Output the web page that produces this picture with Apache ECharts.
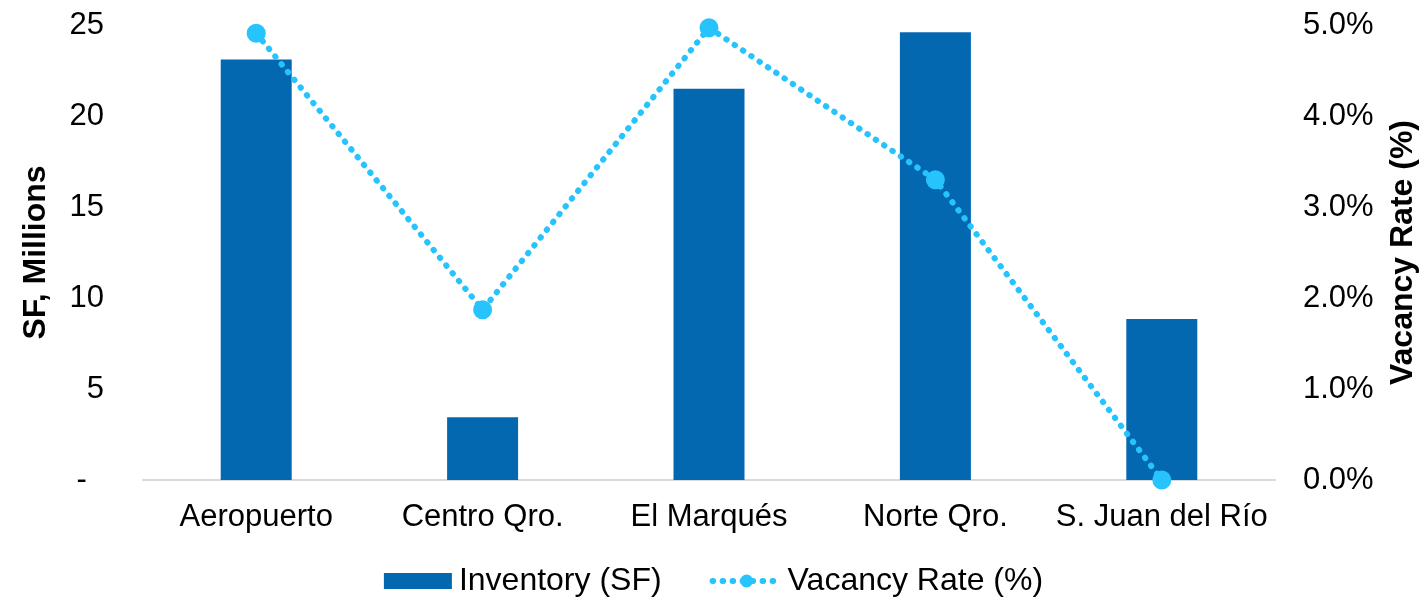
<!DOCTYPE html>
<html>
<head>
<meta charset="utf-8">
<script src="https://cdn.jsdelivr.net/npm/echarts@6/dist/echarts.min.js"></script>
<style>
  html, body { margin: 0; padding: 0; background: #ffffff; }
  #chart { width: 1427px; height: 602px; }
</style>
</head>
<body>
<div id="chart"></div>
<script>
// Industrial submarkets
const categories = ['Aeropuerto', 'Centro Qro.', 'El Marqués', 'Norte Qro.', 'S. Juan del Río'];
// Inventory, square feet in millions
const inventorySF = [23.1, 3.45, 21.5, 24.6, 8.85];
// Vacancy rate, percent
const vacancyRate = [4.91, 1.87, 4.97, 3.30, 0.0];

const BAR_COLOR = '#0468B1';
const LINE_COLOR = '#27C3FC';
const FONT = '"Liberation Sans", Arial, sans-serif';

const chart = echarts.init(document.getElementById('chart'), null, { renderer: 'canvas' });

chart.setOption({
  backgroundColor: '#ffffff',
  animation: false,
  textStyle: { fontFamily: FONT },
  grid: { left: 143, right: 152, top: 25, bottom: 122, containLabel: false },
  legend: {
    bottom: 0,
    left: 'center',
    itemGap: 48,
    itemWidth: 68,
    itemHeight: 16,
    textStyle: { fontFamily: FONT, fontSize: 32, color: '#000000', padding: [0, 0, 0, 2] },
    data: [
      { name: 'Inventory (SF)', icon: 'rect' },
      {
        name: 'Vacancy Rate (%)',
        lineStyle: { width: 6, type: [0.5, 9.5], cap: 'round', color: LINE_COLOR }
      }
    ]
  },
  xAxis: {
    type: 'category',
    data: categories,
    axisLine: { show: true, lineStyle: { color: '#D9D9D9', width: 2 } },
    axisTick: { show: false },
    axisLabel: { interval: 0, fontFamily: FONT, fontSize: 31, color: '#000000', margin: 22 }
  },
  yAxis: [
    {
      type: 'value',
      min: 0, max: 25, interval: 5,
      name: 'SF, Millions',
      nameLocation: 'middle',
      nameRotate: 90,
      nameGap: 91,
      nameTextStyle: { fontFamily: FONT, fontSize: 32, fontWeight: 'bold', color: '#000000' },
      axisLine: { show: false },
      axisTick: { show: false },
      splitLine: { show: false },
      axisLabel: {
        fontFamily: FONT, fontSize: 31, color: '#000000', margin: 39,
        formatter: v => (v === 0 ? '-  ' : String(v))
      }
    },
    {
      type: 'value',
      min: 0, max: 5, interval: 1,
      name: 'Vacancy Rate (%)',
      nameLocation: 'middle',
      nameRotate: 90,
      nameGap: 112,
      nameTextStyle: { fontFamily: FONT, fontSize: 32, fontWeight: 'bold', color: '#000000' },
      axisLine: { show: false },
      axisTick: { show: false },
      splitLine: { show: false },
      axisLabel: {
        fontFamily: FONT, fontSize: 31, color: '#000000', margin: 28,
        formatter: v => v.toFixed(1) + '%'
      }
    }
  ],
  series: [
    {
      name: 'Inventory (SF)',
      type: 'bar',
      yAxisIndex: 0,
      data: inventorySF,
      barWidth: 71,
      itemStyle: { color: BAR_COLOR }
    },
    {
      name: 'Vacancy Rate (%)',
      type: 'line',
      yAxisIndex: 1,
      data: vacancyRate,
      symbol: 'circle',
      symbolSize: 19,
      itemStyle: { color: LINE_COLOR },
      lineStyle: { color: LINE_COLOR, width: 6, type: [0.5, 9.5], cap: 'round' },
      z: 5
    }
  ]
});
</script>
</body>
</html>
